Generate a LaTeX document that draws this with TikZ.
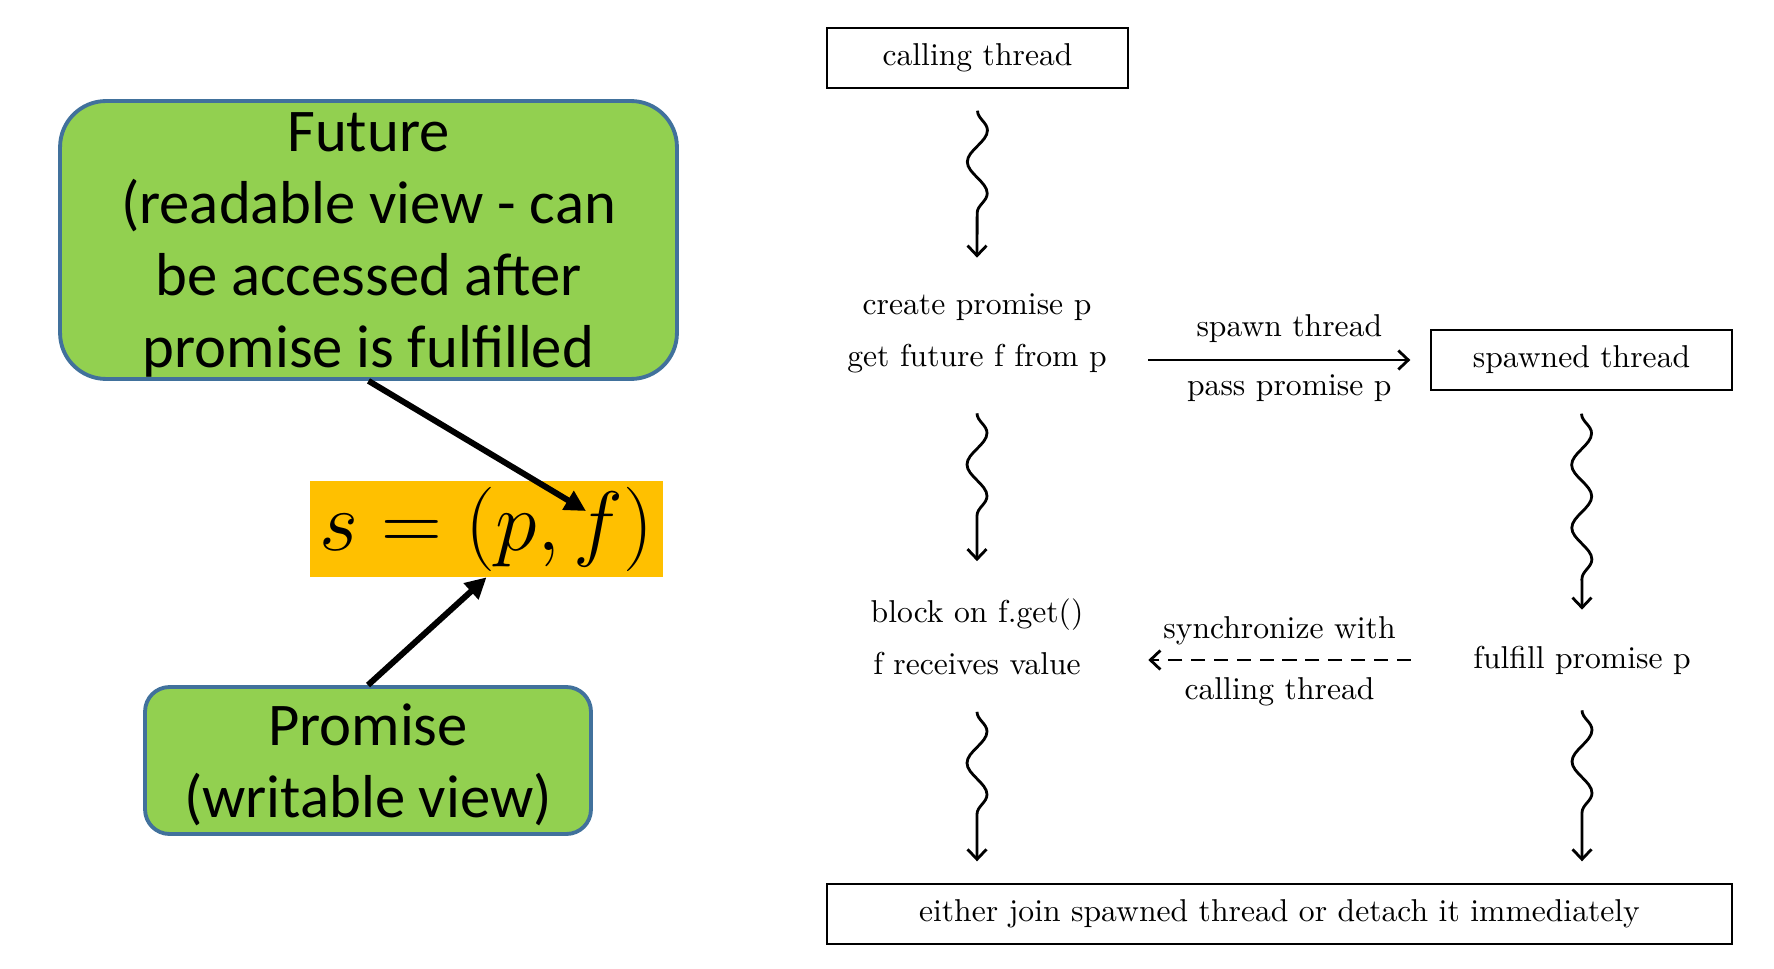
\RequirePackage{fix-cm}
\documentclass[tikz,border=0pt]{standalone}
\usepackage{fontspec}
\newfontfamily\calibri{Carlito}
\newfontfamily\stagefont{lmroman10-regular}[Extension=.otf]
\usepackage{tikz}
\usetikzlibrary{positioning, arrows.meta, decorations.pathmorphing}

\definecolor{viewgreen}{RGB}{146,208,80}
\definecolor{viewedge}{RGB}{65,113,156}
\definecolor{pairorange}{RGB}{255,192,0}

\begin{document}
\begin{tikzpicture}[x=0.02cm, y=-0.02cm,
    viewbox/.style={draw=viewedge, line width=2.2pt, fill=viewgreen, rounded corners=#1, align=center, inner sep=0pt, text depth=0pt, font=\calibri\fontsize{34.5}{41}\selectfont},
    threadbox/.style={draw, line width=0.8pt, minimum height=1.2cm, inner sep=0pt, font=\stagefont\fontsize{18}{22}\selectfont},
    stagetext/.style={align=center, inner sep=0pt, minimum height=3cm, minimum width=6.84cm, font=\stagefont\fontsize{18}{29.5}\selectfont},
    msglabel/.style={inner sep=0pt, font=\stagefont\fontsize{18}{22}\selectfont},
    pointer/.style={line width=3.4pt, -{Triangle[length=0.42cm, width=0.42cm]}},
    wavy/.style={line width=1.6pt, -{Straight Barb[length=0.2cm, width=0.38cm]}, decorate, decoration={snake, amplitude=0.2cm, segment length=1.26cm, post length=0.55cm}},
    msg/.style={line width=1.6pt, -{Straight Barb[length=0.2cm, width=0.38cm]}}]
    \useasboundingbox (0,0) rectangle (1774,969);

    % Views on the shared state
    \node[viewbox=0.92cm, minimum width=12.34cm, minimum height=5.56cm] (future) at (368.5,240) {Future\\(readable view - can\\be accessed after\\promise is fulfilled};
    \node[fill=pairorange, minimum width=7.06cm, minimum height=1.92cm, inner sep=0pt, font=\fontsize{48}{54}\selectfont] (pair) at (486.5,529) {$s=(p,f)$};
    \node[viewbox=0.49cm, minimum width=8.92cm, minimum height=2.94cm] (promise) at (368,760.5) {Promise\\(writable view)};
    \coordinate (ftip) at (586,511);

    \draw[pointer] (future.south) -- (ftip);
    \draw[pointer] (promise.north) -- (pair.south);

    % Threads and their steps
    \node[threadbox, minimum width=6.02cm] (calling) at (977.5,58) {calling thread};
    \node[stagetext] (create) at (977,333) {create promise p\\get future f from p};
    \node[threadbox, minimum width=6.02cm] (spawned) at (1581.5,360) {spawned thread};
    \node[stagetext] (block) at (977,636.5) {block on f.get()\\f receives value};
    \node[stagetext, minimum height=2cm] (fulfill) at (1582,660) {fulfill promise p};
    \node[threadbox, minimum width=18.1cm] (join) at (1279.5,914) {either join spawned thread or detach it immediately};

    % Wavy progress arrows
    \draw[wavy] ([yshift=-0.44cm]calling.south) -- (create.north);
    \draw[wavy] ([yshift=-0.1cm]create.south) -- (block.north);
    \draw[wavy] (block.south) -- ([yshift=0.44cm]block.south |- join.north);
    \draw[wavy] ([yshift=-0.46cm]spawned.south) -- (fulfill.north);
    \draw[wavy] (fulfill.south) -- ([yshift=0.44cm]fulfill.south |- join.north);

    % Messages between the threads
    \draw[msg, shorten >=0.4cm] (create.east |- spawned.west) -- node[msglabel, above=0.31cm] (spawnlbl) {spawn thread} node[msglabel, below=0.26cm] (passlbl) {pass promise p} (spawned.west);
    \draw[msg, dash pattern=on 8pt off 5pt] (fulfill.west) -- node[msglabel, above=0.28cm] (synclbl) {synchronize with} node[msglabel, below=0.33cm] (calllbl) {calling thread} (block.east |- fulfill.west);
\end{tikzpicture}
\end{document}
